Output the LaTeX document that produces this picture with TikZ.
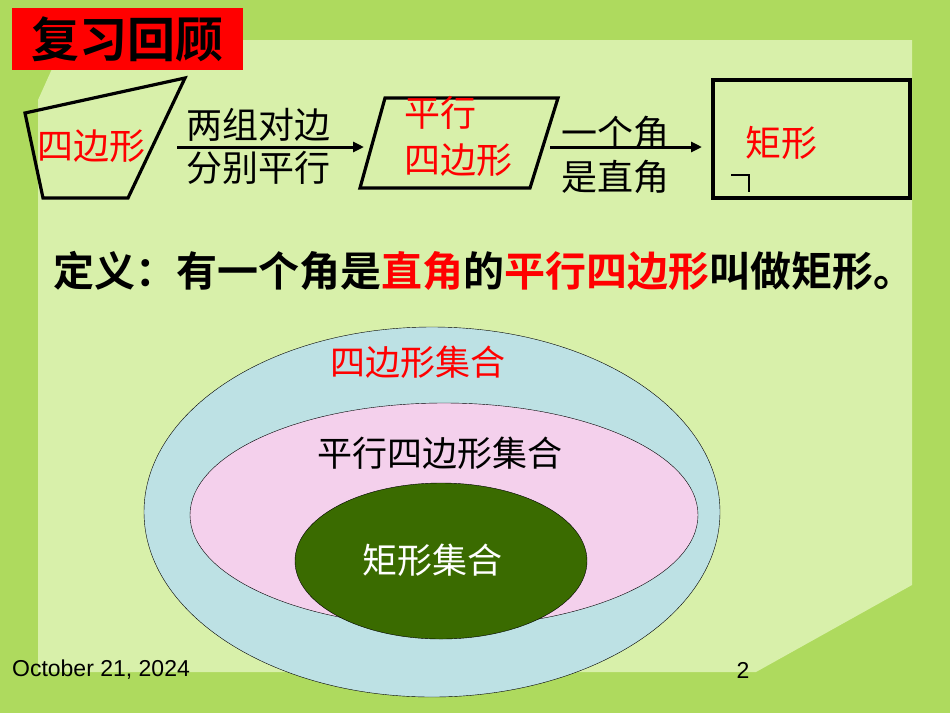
\documentclass[tikz,border=0pt]{standalone}
\usepackage{fontspec}
\setmainfont{Liberation Sans}
\newfontfamily\cjk{Noto Sans CJK SC}
\newfontfamily\cjkb{Noto Sans CJK SC Bold}
\usetikzlibrary{positioning,arrows.meta,shapes.geometric}
\definecolor{outergreen}{HTML}{AEDA5E}
\definecolor{panelgreen}{HTML}{D8F0AA}
\definecolor{setblue}{HTML}{BDE1E4}
\definecolor{setpink}{HTML}{F4D0EC}
\definecolor{setgreen}{HTML}{3A6B00}
\begin{document}
\begin{tikzpicture}[
  x=1pt, y=-1pt,
  lbl/.style={font=\cjk\fontsize{36}{40}\selectfont, inner sep=0pt},
  redlbl/.style={lbl, text=red},
  shapeline/.style={draw=black, line width=3.2pt, line join=miter},
  arrow/.style={-{Triangle[length=11pt,width=10pt]}, line width=3pt},
  setlbl/.style={font=\cjk\fontsize{35}{40}\selectfont, inner sep=0pt}
]
% Background
\fill[outergreen] (0,0) rectangle (950,713);
\fill[panelgreen] (65,40) -- (912,40) -- (912,585) -- (756,672) -- (38,672) -- (38,100) -- cycle;
\useasboundingbox (0,0) rectangle (950,713);

% Title
\node[fill=red, minimum width=231pt, minimum height=62pt, inner sep=0pt,
      font=\cjkb\fontsize{48}{52}\selectfont] (title) at (127.5,39) {复习回顾};

% Shapes
\draw[shapeline] (25,113) -- (185,78) -- (128,198) -- (43,198) -- cycle;
\draw[shapeline] (385,98) -- (558,98) -- (530,188) -- (360,188) -- cycle;
\draw[shapeline] (713,80) rectangle (910,198);
\draw[line width=1.5pt] (731,175) -- (749,175) -- (749,192);

\node[redlbl] (quad) at (91,146) {四边形};
\node[redlbl] (para1) at (440,113) {平行};
\node[redlbl] (para2) at (458,160) {四边形};
\node[redlbl] (rect) at (781,143) {矩形};

% Arrows
\coordinate (a1s) at (177,147);
\coordinate (a1e) at (364,147);
\coordinate (a2s) at (550,147);
\coordinate (a2e) at (702,147);
\draw[arrow] (a1s) -- (a1e);
\draw[arrow] (a2s) -- (a2e);
\node[lbl] (cond1a) at (258,125) {两组对边};
\node[lbl] (cond1b) at (258,168) {分别平行};
\node[lbl] (cond2a) at (615,133) {一个角};
\node[lbl] (cond2b) at (615,177) {是直角};

% Definition
\node[anchor=west, inner sep=0pt, font=\cjkb\fontsize{41}{46}\selectfont] (def) at (53,271)
  {定义：有一个角是\textcolor{red}{直角}的\textcolor{red}{平行四边形}叫做矩形。};

% Sets
\node[draw, fill=setblue, ellipse, minimum width=576pt, minimum height=370pt, inner sep=0pt] (quadset) at (432,512) {};
\node[draw, fill=setpink, ellipse, minimum width=508pt, minimum height=224pt, inner sep=0pt] (paraset) at (444,515) {};
\node[draw, fill=setgreen, ellipse, minimum width=292pt, minimum height=156pt, inner sep=0pt] (rectset) at (441,561) {};
\node[setlbl, text=red] (quadsetlbl) at (418,362) {四边形集合};
\node[setlbl] (parasetlbl) at (440,453) {平行四边形集合};
\node[setlbl, text=white] (rectsetlbl) at (432,560) {矩形集合};

% Footer
\node[font=\fontsize{23}{26}\selectfont, inner sep=0pt] (date) at (101,670) {October 21, 2024};
\node[font=\fontsize{23}{26}\selectfont, inner sep=0pt] (page) at (743,670) {2};
\end{tikzpicture}
\end{document}
